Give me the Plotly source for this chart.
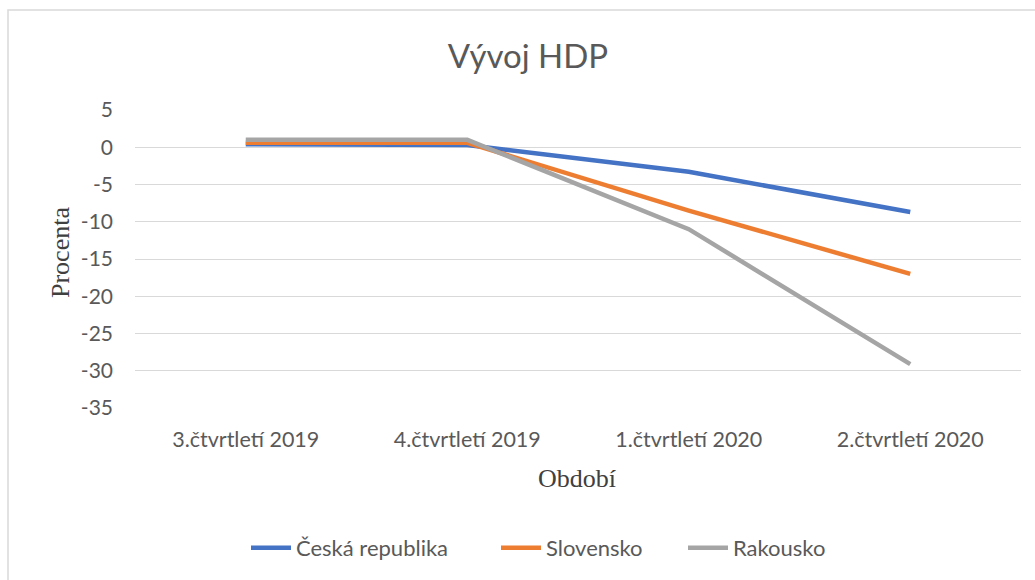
import plotly.graph_objects as go

categories = ["3.čtvrtletí 2019", "4.čtvrtletí 2019", "1.čtvrtletí 2020", "2.čtvrtletí 2020"]
cz = [0.4, 0.3, -3.3, -8.7]
sk = [0.6, 0.6, -8.5, -17.0]
at = [1.0, 1.0, -11.0, -29.1]
series_names = ["Česká republika", "Slovensko", "Rakousko"]
colors = ["#4472C4", "#ED7D31", "#A5A5A5"]
y_ticks = [5, 0, -5, -10, -15, -20, -25, -30, -35]

W, H = 1035, 580
L, R, T, B = 135, 14, 110, 172
pw, ph = W - L - R, H - T - B

def px_x(x):
    return (x - L) / pw

def px_y(y):
    return (H - B - y) / ph

serif = "Liberation Serif, Times New Roman, serif"
sans = "Lato, Open Sans, sans-serif"

legend_ids = ["legend", "legend2", "legend3"]
legend_left_px = [246, 496, 683]

fig = go.Figure()
for name, vals, col, lid in zip(series_names, [cz, sk, at], colors, legend_ids):
    fig.add_trace(go.Scatter(x=categories, y=vals, mode="lines", name=name, legend=lid,
                             line=dict(color=col, width=4.5)))

fig.add_shape(type="rect", xref="paper", yref="paper",
              x0=px_x(8), x1=px_x(1060), y0=px_y(600), y1=px_y(10),
              line=dict(color="#D9D9D9", width=1.5), fillcolor="rgba(0,0,0,0)", layer="below")

fig.add_annotation(text="Období", xref="paper", yref="paper", x=px_x(577), y=px_y(478),
                   xanchor="center", yanchor="middle", showarrow=False,
                   font=dict(family=serif, size=26, color="#404040"))
fig.add_annotation(text="Procenta", xref="paper", yref="paper", x=px_x(60), y=px_y(253),
                   xanchor="center", yanchor="middle", showarrow=False, textangle=-90,
                   font=dict(family=serif, size=26, color="#404040"))

legend_common = dict(orientation="h", xref="container", xanchor="left",
                     y=1 - 548 / H, yref="container", yanchor="middle",
                     font=dict(family=sans, size=22, color="#595959"), itemwidth=40,
                     bgcolor="rgba(0,0,0,0)")

fig.update_layout(
    width=W, height=H,
    margin=dict(l=L, r=R, t=T, b=B, autoexpand=False),
    paper_bgcolor="white", plot_bgcolor="white",
    title=dict(text="Vývoj HDP", x=528 / W, xref="container", xanchor="center",
               y=1 - 56 / H, yref="container", yanchor="middle",
               font=dict(family=sans, size=33, color="#595959")),
    font=dict(family=sans, size=21, color="#595959"),
    xaxis=dict(range=[-0.5, 3.5], showgrid=False, zeroline=False, showline=False, ticks="",
               automargin=False, ticklabelstandoff=16,
               tickfont=dict(size=21.5, color="#595959")),
    yaxis=dict(range=[-35, 5], tickvals=y_ticks, ticktext=[str(v) for v in y_ticks],
               showgrid=True, gridcolor="#D9D9D9",
               gridwidth=1, zeroline=False, showline=False, ticks="", automargin=False,
               ticklabelstandoff=21, tickfont=dict(size=21, color="#595959")),
    legend=dict(x=legend_left_px[0] / W, **legend_common),
    legend2=dict(x=legend_left_px[1] / W, **legend_common),
    legend3=dict(x=legend_left_px[2] / W, **legend_common),
    showlegend=True,
)

fig.write_html("out.html", config={"displayModeBar": False},
               post_script="document.body.style.margin='0';")
